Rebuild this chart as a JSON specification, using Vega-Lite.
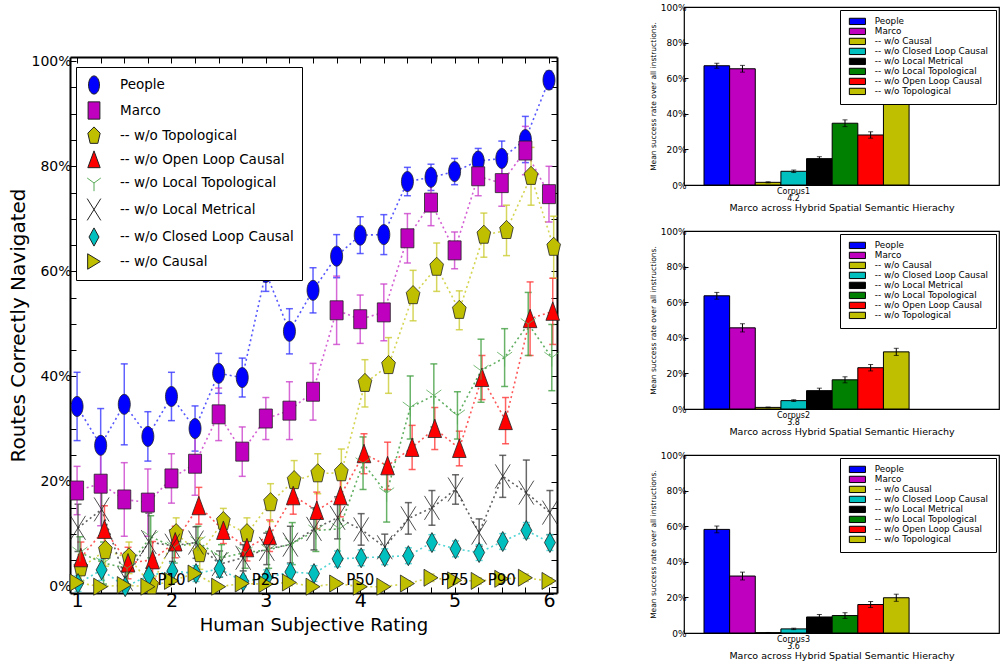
{
  "$schema": "https://vega.github.io/schema/vega-lite/v6.json",
  "background": "white",
  "padding": {"top": 2, "left": 8, "right": 0, "bottom": 0},
  "config": {
    "font": "DejaVu Sans",
    "axis": {"labelColor": "#000", "titleColor": "#000", "tickColor": "#000", "domain": false, "grid": false, "labelOverlap": false, "titleFontWeight": "normal", "labelFont": "DejaVu Sans", "titleFont": "DejaVu Sans"},
    "legend": {"labelFont": "DejaVu Sans", "labelColor": "#000", "labelLimit": 400}
  },
  "datasets": {
    "lines": [
      {"s":"People","x":1,"y":34.3,"e":6.5},{"s":"People","x":1.25,"y":26.9,"e":7},{"s":"People","x":1.5,"y":34.7,"e":7.7},{"s":"People","x":1.75,"y":28.6,"e":4.7},{"s":"People","x":2,"y":36.2,"e":4.6},{"s":"People","x":2.25,"y":30.1,"e":4.3},{"s":"People","x":2.5,"y":40.6,"e":3.8},{"s":"People","x":2.75,"y":39.8,"e":3.7},{"s":"People","x":3,"y":59.8,"e":3.6},{"s":"People","x":3.25,"y":48.6,"e":4.3},{"s":"People","x":3.5,"y":56.4,"e":4.3},{"s":"People","x":3.75,"y":62.9,"e":4.1},{"s":"People","x":4,"y":66.9,"e":3.5},{"s":"People","x":4.25,"y":67.0,"e":3.8},{"s":"People","x":4.5,"y":77.1,"e":2.7},{"s":"People","x":4.75,"y":77.9,"e":2.5},{"s":"People","x":5,"y":79.0,"e":2.5},{"s":"People","x":5.25,"y":81.0,"e":2.4},{"s":"People","x":5.5,"y":81.5,"e":3.3},{"s":"People","x":5.75,"y":85.1,"e":4.4},{"s":"People","x":6,"y":96.4,"e":1.7},
      {"s":"Marco","x":1,"y":18.3,"e":4.6},{"s":"Marco","x":1.25,"y":19.6,"e":8},{"s":"Marco","x":1.5,"y":16.6,"e":7},{"s":"Marco","x":1.75,"y":16.0,"e":6.4},{"s":"Marco","x":2,"y":20.6,"e":4.7},{"s":"Marco","x":2.25,"y":23.4,"e":6},{"s":"Marco","x":2.5,"y":32.8,"e":5},{"s":"Marco","x":2.75,"y":25.7,"e":4.7},{"s":"Marco","x":3,"y":32.0,"e":4},{"s":"Marco","x":3.25,"y":33.5,"e":5.5},{"s":"Marco","x":3.5,"y":37.1,"e":5.4},{"s":"Marco","x":3.75,"y":52.6,"e":6.5},{"s":"Marco","x":4,"y":50.9,"e":4.6},{"s":"Marco","x":4.25,"y":52.2,"e":5.4},{"s":"Marco","x":4.5,"y":66.3,"e":4.7},{"s":"Marco","x":4.75,"y":73.1,"e":4.4},{"s":"Marco","x":5,"y":64.0,"e":3.5},{"s":"Marco","x":5.25,"y":78.1,"e":3.7},{"s":"Marco","x":5.5,"y":76.8,"e":4.4},{"s":"Marco","x":5.75,"y":83.0,"e":4.6},{"s":"Marco","x":6,"y":74.7,"e":5.3},
      {"s":"-- w/o Topological","x":1.04,"y":3.6,"e":2.5},{"s":"-- w/o Topological","x":1.3,"y":6.9,"e":3},{"s":"-- w/o Topological","x":1.55,"y":5.5,"e":3},{"s":"-- w/o Topological","x":1.79,"y":0.2,"e":1.5},{"s":"-- w/o Topological","x":2.05,"y":10.1,"e":3},{"s":"-- w/o Topological","x":2.3,"y":6.3,"e":3},{"s":"-- w/o Topological","x":2.55,"y":12.4,"e":2.5},{"s":"-- w/o Topological","x":2.8,"y":10.1,"e":3},{"s":"-- w/o Topological","x":3.05,"y":16.0,"e":3.6},{"s":"-- w/o Topological","x":3.3,"y":20.2,"e":3.8},{"s":"-- w/o Topological","x":3.55,"y":21.5,"e":3.8},{"s":"-- w/o Topological","x":3.8,"y":21.7,"e":4.5},{"s":"-- w/o Topological","x":4.05,"y":38.7,"e":4.5},{"s":"-- w/o Topological","x":4.3,"y":42.1,"e":5.3},{"s":"-- w/o Topological","x":4.56,"y":55.4,"e":4.8},{"s":"-- w/o Topological","x":4.81,"y":60.8,"e":4.6},{"s":"-- w/o Topological","x":5.05,"y":52.6,"e":3.7},{"s":"-- w/o Topological","x":5.31,"y":66.9,"e":4.2},{"s":"-- w/o Topological","x":5.55,"y":67.8,"e":4.8},{"s":"-- w/o Topological","x":5.81,"y":78.1,"e":5.5},{"s":"-- w/o Topological","x":6.05,"y":64.6,"e":5.9},
      {"s":"-- w/o Open Loop Causal","x":1.04,"y":5.5,"e":3},{"s":"-- w/o Open Loop Causal","x":1.29,"y":10.9,"e":4.5},{"s":"-- w/o Open Loop Causal","x":1.54,"y":4.5,"e":3},{"s":"-- w/o Open Loop Causal","x":1.8,"y":5.1,"e":3.5},{"s":"-- w/o Open Loop Causal","x":2.04,"y":8.5,"e":3},{"s":"-- w/o Open Loop Causal","x":2.29,"y":15.4,"e":3.5},{"s":"-- w/o Open Loop Causal","x":2.55,"y":10.7,"e":2.5},{"s":"-- w/o Open Loop Causal","x":2.8,"y":7.4,"e":2.5},{"s":"-- w/o Open Loop Causal","x":3.04,"y":9.7,"e":3},{"s":"-- w/o Open Loop Causal","x":3.29,"y":17.3,"e":3.5},{"s":"-- w/o Open Loop Causal","x":3.54,"y":14.5,"e":3.5},{"s":"-- w/o Open Loop Causal","x":3.79,"y":17.3,"e":4},{"s":"-- w/o Open Loop Causal","x":4.04,"y":25.3,"e":3.8},{"s":"-- w/o Open Loop Causal","x":4.29,"y":23.0,"e":4.5},{"s":"-- w/o Open Loop Causal","x":4.55,"y":26.5,"e":4.2},{"s":"-- w/o Open Loop Causal","x":4.79,"y":30.1,"e":4},{"s":"-- w/o Open Loop Causal","x":5.05,"y":26.3,"e":3.3},{"s":"-- w/o Open Loop Causal","x":5.29,"y":39.8,"e":4.2},{"s":"-- w/o Open Loop Causal","x":5.54,"y":31.6,"e":4.4},{"s":"-- w/o Open Loop Causal","x":5.8,"y":51.0,"e":7},{"s":"-- w/o Open Loop Causal","x":6.04,"y":52.4,"e":6.3},
      {"s":"-- w/o Local Topological","x":1.03,"y":6.5,"e":3},{"s":"-- w/o Local Topological","x":1.28,"y":4.5,"e":4},{"s":"-- w/o Local Topological","x":1.53,"y":3.5,"e":3},{"s":"-- w/o Local Topological","x":1.78,"y":9.5,"e":4},{"s":"-- w/o Local Topological","x":2.03,"y":7.5,"e":3},{"s":"-- w/o Local Topological","x":2.28,"y":8.5,"e":3},{"s":"-- w/o Local Topological","x":2.53,"y":5.5,"e":2.5},{"s":"-- w/o Local Topological","x":2.78,"y":6.5,"e":3},{"s":"-- w/o Local Topological","x":3.03,"y":7.0,"e":3.5},{"s":"-- w/o Local Topological","x":3.28,"y":8.2,"e":4},{"s":"-- w/o Local Topological","x":3.53,"y":10.7,"e":4},{"s":"-- w/o Local Topological","x":3.78,"y":11.0,"e":6},{"s":"-- w/o Local Topological","x":4.03,"y":23.5,"e":5},{"s":"-- w/o Local Topological","x":4.28,"y":17.8,"e":5.5},{"s":"-- w/o Local Topological","x":4.53,"y":34.1,"e":6},{"s":"-- w/o Local Topological","x":4.78,"y":36.4,"e":6},{"s":"-- w/o Local Topological","x":5.03,"y":32.6,"e":4.5},{"s":"-- w/o Local Topological","x":5.28,"y":41.1,"e":6},{"s":"-- w/o Local Topological","x":5.53,"y":43.6,"e":5.5},{"s":"-- w/o Local Topological","x":5.78,"y":50.0,"e":6},{"s":"-- w/o Local Topological","x":6.03,"y":43.6,"e":6.3},
      {"s":"-- w/o Local Metrical","x":1.01,"y":11.2,"e":4.5},{"s":"-- w/o Local Metrical","x":1.26,"y":14.7,"e":5},{"s":"-- w/o Local Metrical","x":1.51,"y":1.5,"e":2},{"s":"-- w/o Local Metrical","x":1.76,"y":8.5,"e":5.5},{"s":"-- w/o Local Metrical","x":2.01,"y":7.8,"e":3},{"s":"-- w/o Local Metrical","x":2.26,"y":8.4,"e":3},{"s":"-- w/o Local Metrical","x":2.51,"y":4.3,"e":2.5},{"s":"-- w/o Local Metrical","x":2.76,"y":5.5,"e":2.5},{"s":"-- w/o Local Metrical","x":3.01,"y":7.2,"e":3},{"s":"-- w/o Local Metrical","x":3.26,"y":8.0,"e":3.5},{"s":"-- w/o Local Metrical","x":3.51,"y":11.0,"e":4},{"s":"-- w/o Local Metrical","x":3.76,"y":13.1,"e":4},{"s":"-- w/o Local Metrical","x":4.01,"y":10.9,"e":3},{"s":"-- w/o Local Metrical","x":4.26,"y":7.5,"e":2.5},{"s":"-- w/o Local Metrical","x":4.51,"y":13.0,"e":3},{"s":"-- w/o Local Metrical","x":4.76,"y":15.0,"e":3.3},{"s":"-- w/o Local Metrical","x":5.01,"y":18.5,"e":2.8},{"s":"-- w/o Local Metrical","x":5.26,"y":10.3,"e":2.6},{"s":"-- w/o Local Metrical","x":5.51,"y":21.0,"e":4},{"s":"-- w/o Local Metrical","x":5.76,"y":17.9,"e":6.2},{"s":"-- w/o Local Metrical","x":6.01,"y":14.1,"e":4.2},
      {"s":"-- w/o Closed Loop Causal","x":1.01,"y":0.6,"e":1.5},{"s":"-- w/o Closed Loop Causal","x":1.26,"y":3.2,"e":2},{"s":"-- w/o Closed Loop Causal","x":1.51,"y":0,"e":1},{"s":"-- w/o Closed Loop Causal","x":1.76,"y":2.1,"e":1.5},{"s":"-- w/o Closed Loop Causal","x":2.01,"y":3.0,"e":1.5},{"s":"-- w/o Closed Loop Causal","x":2.26,"y":2.5,"e":1.5},{"s":"-- w/o Closed Loop Causal","x":2.51,"y":3.4,"e":1.5},{"s":"-- w/o Closed Loop Causal","x":2.76,"y":1.0,"e":1},{"s":"-- w/o Closed Loop Causal","x":3.01,"y":1.7,"e":1.5},{"s":"-- w/o Closed Loop Causal","x":3.26,"y":2.8,"e":1.5},{"s":"-- w/o Closed Loop Causal","x":3.51,"y":2.5,"e":1.5},{"s":"-- w/o Closed Loop Causal","x":3.76,"y":5.3,"e":1.5},{"s":"-- w/o Closed Loop Causal","x":4.01,"y":5.5,"e":1.5},{"s":"-- w/o Closed Loop Causal","x":4.26,"y":5.7,"e":1.5},{"s":"-- w/o Closed Loop Causal","x":4.51,"y":5.9,"e":1.5},{"s":"-- w/o Closed Loop Causal","x":4.76,"y":8.4,"e":1.5},{"s":"-- w/o Closed Loop Causal","x":5.01,"y":7.2,"e":1.5},{"s":"-- w/o Closed Loop Causal","x":5.26,"y":6.5,"e":1.5},{"s":"-- w/o Closed Loop Causal","x":5.51,"y":8.6,"e":1.5},{"s":"-- w/o Closed Loop Causal","x":5.76,"y":10.7,"e":1.5},{"s":"-- w/o Closed Loop Causal","x":6.01,"y":8.4,"e":1.5},
      {"s":"-- w/o Causal","x":1,"y":0.8,"e":0.6},{"s":"-- w/o Causal","x":1.25,"y":0,"e":0.4},{"s":"-- w/o Causal","x":1.5,"y":0.3,"e":0.5},{"s":"-- w/o Causal","x":1.75,"y":0,"e":0.4},{"s":"-- w/o Causal","x":2,"y":1.1,"e":0.6},{"s":"-- w/o Causal","x":2.25,"y":2.5,"e":0.8},{"s":"-- w/o Causal","x":2.5,"y":0,"e":0.4},{"s":"-- w/o Causal","x":2.75,"y":0.6,"e":0.5},{"s":"-- w/o Causal","x":3,"y":0.5,"e":0.5},{"s":"-- w/o Causal","x":3.25,"y":0.8,"e":0.6},{"s":"-- w/o Causal","x":3.5,"y":0,"e":0.4},{"s":"-- w/o Causal","x":3.75,"y":0.6,"e":0.5},{"s":"-- w/o Causal","x":4,"y":0,"e":0.4},{"s":"-- w/o Causal","x":4.25,"y":0,"e":0.4},{"s":"-- w/o Causal","x":4.5,"y":0.6,"e":0.5},{"s":"-- w/o Causal","x":4.75,"y":1.7,"e":0.7},{"s":"-- w/o Causal","x":5,"y":1.2,"e":0.6},{"s":"-- w/o Causal","x":5.25,"y":1.1,"e":0.6},{"s":"-- w/o Causal","x":5.5,"y":1.5,"e":0.7},{"s":"-- w/o Causal","x":5.75,"y":1.7,"e":0.7},{"s":"-- w/o Causal","x":6,"y":1.1,"e":0.6}
    ],
    "pct": [
      {"x":2,"y":1.3,"t":"P10"},{"x":3,"y":1.3,"t":"P25"},{"x":4,"y":1.3,"t":"P50"},{"x":5,"y":1.3,"t":"P75"},{"x":5.5,"y":1.3,"t":"P90"}
    ],
    "bars": [
      {"c":"Corpus1|4.2","s":"People","v":67.0,"e":1.4},{"c":"Corpus1|4.2","s":"Marco","v":65.3,"e":1.9},{"c":"Corpus1|4.2","s":"-- w/o Causal","v":1.5,"e":0.3},{"c":"Corpus1|4.2","s":"-- w/o Closed Loop Causal","v":7.7,"e":0.7},{"c":"Corpus1|4.2","s":"-- w/o Local Metrical","v":14.8,"e":1.1},{"c":"Corpus1|4.2","s":"-- w/o Local Topological","v":34.7,"e":1.9},{"c":"Corpus1|4.2","s":"-- w/o Open Loop Causal","v":28.1,"e":1.8},{"c":"Corpus1|4.2","s":"-- w/o Topological","v":52.2,"e":1.9},
      {"c":"Corpus2|3.8","s":"People","v":63.6,"e":1.9},{"c":"Corpus2|3.8","s":"Marco","v":45.6,"e":2.3},{"c":"Corpus2|3.8","s":"-- w/o Causal","v":0.9,"e":0.2},{"c":"Corpus2|3.8","s":"-- w/o Closed Loop Causal","v":4.7,"e":0.5},{"c":"Corpus2|3.8","s":"-- w/o Local Metrical","v":10.3,"e":1.4},{"c":"Corpus2|3.8","s":"-- w/o Local Topological","v":16.4,"e":1.7},{"c":"Corpus2|3.8","s":"-- w/o Open Loop Causal","v":23.2,"e":1.8},{"c":"Corpus2|3.8","s":"-- w/o Topological","v":32.1,"e":2.0},
      {"c":"Corpus3|3.6","s":"People","v":58.2,"e":1.9},{"c":"Corpus3|3.6","s":"Marco","v":32.0,"e":2.2},{"c":"Corpus3|3.6","s":"-- w/o Causal","v":0.2,"e":0.1},{"c":"Corpus3|3.6","s":"-- w/o Closed Loop Causal","v":2.3,"e":0.4},{"c":"Corpus3|3.6","s":"-- w/o Local Metrical","v":9.0,"e":1.4},{"c":"Corpus3|3.6","s":"-- w/o Local Topological","v":9.8,"e":1.6},{"c":"Corpus3|3.6","s":"-- w/o Open Loop Causal","v":16.0,"e":1.7},{"c":"Corpus3|3.6","s":"-- w/o Topological","v":19.8,"e":2.0}
    ]
  },
  "resolve": {"scale": {"color": "independent", "x": "independent", "y": "independent"}, "legend": {"color": "independent"}},
  "spacing": 85,
  "hconcat": [
    {
      "width": 487,
      "height": 586,
      "view": {"stroke": null},
      "resolve": {"axis": {"x": "independent", "y": "independent"}},
      "layer": [
        {
          "data": {"name": "lines"},
          "mark": {"type": "line", "strokeDash": [2, 3], "strokeWidth": 1.6, "opacity": 0.85},
          "encoding": {
            "x": {"field": "x", "type": "quantitative", "scale": {"domain": [0.925, 6.085], "nice": false, "zero": false},
                  "axis": {"orient": "bottom", "values": [1,1.25,1.5,1.75,2,2.25,2.5,2.75,3,3.25,3.5,3.75,4,4.25,4.5,4.75,5,5.25,5.5,5.75,6], "labelExpr": "datum.value % 1 == 0 ? format(datum.value, 'd') : ''", "domain": true, "domainColor": "#000", "domainWidth": 2, "tickSize": -6, "labelFontSize": 19, "labelPadding": 4, "labelFlush": false, "title": "Human Subjective Rating", "titleFontSize": 18, "titlePadding": 6}},
            "y": {"field": "y", "type": "quantitative", "scale": {"domain": [-1.2, 100.8], "range": [586, 50], "nice": false, "zero": false},
                  "axis": {"orient": "left", "values": [0,5,10,15,20,25,30,35,40,45,50,55,60,65,70,75,80,85,90,95,100], "labelExpr": "datum.value % 20 == 0 ? datum.value + '%' : ''", "domain": true, "domainColor": "#000", "domainWidth": 2, "tickSize": -6, "labelFontSize": 14, "labelPadding": 5, "labelFlush": false, "title": "Routes Correctly Navigated", "titleFontSize": 20, "titlePadding": 2}},
            "color": {"field": "s", "type": "nominal", "legend": null,
                      "scale": {"domain": ["People","Marco","-- w/o Topological","-- w/o Open Loop Causal","-- w/o Local Topological","-- w/o Local Metrical","-- w/o Closed Loop Causal","-- w/o Causal"],
                                "range": ["#3a3aff","#cc44cc","#cccc33","#ff3a3a","#44a044","#444444","#33cccc","#cccc33"]}}
          }
        },
        {
          "data": {"name": "lines"},
          "mark": {"type": "errorbar", "ticks": {"size": 7}, "thickness": 1.5, "opacity": 0.8},
          "encoding": {
            "x": {"field": "x", "type": "quantitative", "scale": {"domain": [0.925, 6.085], "nice": false, "zero": false},
                  "axis": {"orient": "top", "offset": -50, "values": [1,1.25,1.5,1.75,2,2.25,2.5,2.75,3,3.25,3.5,3.75,4,4.25,4.5,4.75,5,5.25,5.5,5.75,6], "labels": false, "domain": true, "domainColor": "#000", "domainWidth": 2, "tickSize": -6, "title": null}},
            "y": {"field": "y", "type": "quantitative", "scale": {"domain": [-1.2, 100.8], "range": [586, 50], "nice": false, "zero": false},
                  "axis": {"orient": "right", "values": [0,5,10,15,20,25,30,35,40,45,50,55,60,65,70,75,80,85,90,95,100], "labels": false, "domain": true, "domainColor": "#000", "domainWidth": 2, "tickSize": -6, "title": null}},
            "yError": {"field": "e"},
            "color": {"field": "s", "type": "nominal", "legend": null}
          }
        },
        {
          "data": {"name": "lines"},
          "mark": {"type": "point", "filled": true, "opacity": 1, "size": 400, "strokeWidth": 0.8},
          "encoding": {
            "x": {"field": "x", "type": "quantitative", "axis": null},
            "y": {"field": "y", "type": "quantitative", "axis": null},
            "shape": {"field": "s", "type": "nominal",
                      "scale": {"domain": ["People","Marco","-- w/o Topological","-- w/o Open Loop Causal","-- w/o Local Topological","-- w/o Local Metrical","-- w/o Closed Loop Causal","-- w/o Causal"],
                                "range": ["M0,-1A0.6,1,0,1,1,0,1A0.6,1,0,1,1,0,-1Z","M-0.65,-0.95H0.65V0.95H-0.65Z","M0,-1L0.68,-0.31L0.42,0.81L-0.42,0.81L-0.68,-0.31Z","M0,-0.95L0.68,0.9L-0.68,0.9Z","M0,0L0,0.9M0,0L0.75,-0.55M0,0L-0.75,-0.55","M-0.75,-1.2L0.75,1.2M-0.75,1.2L0.75,-1.2","M0,-1L0.55,0L0,1L-0.55,0Z","M0.7,0L-0.7,-0.85L-0.7,0.85Z"]},
                      "legend": {"orient": "none", "legendX": 6, "legendY": 60, "title": null, "padding": 8, "strokeColor": "#000", "fillColor": "#fff", "labelFontSize": 13.5, "symbolSize": 330, "rowPadding": 2.5, "labelOffset": 16, "symbolStrokeWidth": 1}},
            "fill": {"field": "s", "type": "nominal",
                     "scale": {"domain": ["People","Marco","-- w/o Topological","-- w/o Open Loop Causal","-- w/o Local Topological","-- w/o Local Metrical","-- w/o Closed Loop Causal","-- w/o Causal"],
                               "range": ["#0000ff","#bf00bf","#bfbf00","#ff0000","transparent","transparent","#00bfbf","#bfbf00"]},
                     "legend": {"orient": "none", "legendX": 6, "legendY": 60, "title": null, "padding": 8, "strokeColor": "#000", "fillColor": "#fff", "labelFontSize": 13.5, "symbolSize": 330, "rowPadding": 2.5, "labelOffset": 16, "symbolStrokeWidth": 1}},
            "stroke": {"field": "s", "type": "nominal",
                       "scale": {"domain": ["People","Marco","-- w/o Topological","-- w/o Open Loop Causal","-- w/o Local Topological","-- w/o Local Metrical","-- w/o Closed Loop Causal","-- w/o Causal"],
                                 "range": ["#222222","#222222","#222222","#222222","#55aa55","#222222","#222222","#222222"]},
                       "legend": {"orient": "none", "legendX": 6, "legendY": 60, "title": null, "padding": 8, "strokeColor": "#000", "fillColor": "#fff", "labelFontSize": 13.5, "symbolSize": 330, "rowPadding": 2.5, "labelOffset": 16, "symbolStrokeWidth": 1}}
          }
        },
        {
          "data": {"name": "pct"},
          "mark": {"type": "text", "fontSize": 15, "color": "#000", "align": "center", "baseline": "middle"},
          "encoding": {
            "x": {"field": "x", "type": "quantitative", "axis": null},
            "y": {"field": "y", "type": "quantitative", "axis": null},
            "text": {"field": "t"}
          }
        }
      ]
    },
    {
      "spacing": 13,
      "resolve": {"scale": {"color": "independent", "x": "independent", "y": "independent", "xOffset": "independent"}, "legend": {"color": "independent"}},
      "vconcat": [
        {
          "width": 315, "height": 178,
          "view": {"stroke": "#000", "strokeWidth": 1.2},
          "data": {"name": "bars"},
          "transform": [{"filter": "datum.c == 'Corpus1|4.2'"}],
          "layer": [
            {
              "mark": {"type": "bar", "stroke": "#000", "strokeWidth": 1},
              "encoding": {
                "x": {"field": "c", "type": "nominal", "scale": {"paddingOuter": 0.268, "paddingInner": 0, "align": 0.182},
                      "axis": {"labelExpr": "split(datum.label, '|')", "labelAngle": 0, "labelFontSize": 8, "labelLineHeight": 7.5, "labelOffset": -13, "labelPadding": 2, "tickSize": 0, "title": "Marco across Hybrid Spatial Semantic Hierachy", "titleFontSize": 9.5, "titlePadding": 0}},
                "xOffset": {"field": "s", "type": "nominal", "scale": {"domain": ["People","Marco","-- w/o Causal","-- w/o Closed Loop Causal","-- w/o Local Metrical","-- w/o Local Topological","-- w/o Open Loop Causal","-- w/o Topological"], "paddingInner": 0, "paddingOuter": 0}},
                "y": {"field": "v", "type": "quantitative", "scale": {"domain": [0, 100], "nice": false},
                      "axis": {"title": "Mean success rate over all instructions.", "values": [0,20,40,60,80,100], "labelExpr": "datum.value + '%'", "labelOverlap": false, "labelFlush": false, "tickSize": -4, "labelFontSize": 9, "labelPadding": 2, "titleFontSize": 7.5, "titlePadding": 3}},
                "color": {"field": "s", "type": "nominal",
                          "scale": {"domain": ["People","Marco","-- w/o Causal","-- w/o Closed Loop Causal","-- w/o Local Metrical","-- w/o Local Topological","-- w/o Open Loop Causal","-- w/o Topological"],
                                    "range": ["#0000ff","#bf00bf","#bfbf00","#00bfbf","#000000","#008000","#ff0000","#bfbf00"]},
                          "legend": {"orient": "top-right", "offset": 3, "title": null, "padding": 7, "symbolOffset": 6, "strokeColor": "#000", "fillColor": "#fff", "labelFontSize": 8.8, "symbolType": "M-2.3,-0.9H2.3V0.9H-2.3Z", "symbolSize": 49, "symbolStrokeColor": "#000", "symbolStrokeWidth": 1, "rowPadding": -2, "labelOffset": 13}}
              }
            },
            {
              "mark": {"type": "errorbar", "ticks": {"size": 5}, "color": "#000"},
              "encoding": {
                "x": {"field": "c", "type": "nominal"},
                "xOffset": {"field": "s", "type": "nominal"},
                "y": {"field": "v", "type": "quantitative",
                      "axis": {"title": "Mean success rate over all instructions.", "values": [0,20,40,60,80,100], "labelExpr": "datum.value + '%'", "labelOverlap": false, "labelFlush": false, "tickSize": -4, "labelFontSize": 9, "labelPadding": 2, "titleFontSize": 7.5, "titlePadding": 3}},
                "yError": {"field": "e"}
              }
            }
          ]
        },
        {
          "width": 315, "height": 178,
          "view": {"stroke": "#000", "strokeWidth": 1.2},
          "data": {"name": "bars"},
          "transform": [{"filter": "datum.c == 'Corpus2|3.8'"}],
          "layer": [
            {
              "mark": {"type": "bar", "stroke": "#000", "strokeWidth": 1},
              "encoding": {
                "x": {"field": "c", "type": "nominal", "scale": {"paddingOuter": 0.268, "paddingInner": 0, "align": 0.182},
                      "axis": {"labelExpr": "split(datum.label, '|')", "labelAngle": 0, "labelFontSize": 8, "labelLineHeight": 7.5, "labelOffset": -13, "labelPadding": 2, "tickSize": 0, "title": "Marco across Hybrid Spatial Semantic Hierachy", "titleFontSize": 9.5, "titlePadding": 0}},
                "xOffset": {"field": "s", "type": "nominal", "scale": {"domain": ["People","Marco","-- w/o Causal","-- w/o Closed Loop Causal","-- w/o Local Metrical","-- w/o Local Topological","-- w/o Open Loop Causal","-- w/o Topological"], "paddingInner": 0, "paddingOuter": 0}},
                "y": {"field": "v", "type": "quantitative", "scale": {"domain": [0, 100], "nice": false},
                      "axis": {"title": "Mean success rate over all instructions.", "values": [0,20,40,60,80,100], "labelExpr": "datum.value + '%'", "labelOverlap": false, "labelFlush": false, "tickSize": -4, "labelFontSize": 9, "labelPadding": 2, "titleFontSize": 7.5, "titlePadding": 3}},
                "color": {"field": "s", "type": "nominal",
                          "scale": {"domain": ["People","Marco","-- w/o Causal","-- w/o Closed Loop Causal","-- w/o Local Metrical","-- w/o Local Topological","-- w/o Open Loop Causal","-- w/o Topological"],
                                    "range": ["#0000ff","#bf00bf","#bfbf00","#00bfbf","#000000","#008000","#ff0000","#bfbf00"]},
                          "legend": {"orient": "top-right", "offset": 3, "title": null, "padding": 7, "symbolOffset": 6, "strokeColor": "#000", "fillColor": "#fff", "labelFontSize": 8.8, "symbolType": "M-2.3,-0.9H2.3V0.9H-2.3Z", "symbolSize": 49, "symbolStrokeColor": "#000", "symbolStrokeWidth": 1, "rowPadding": -2, "labelOffset": 13}}
              }
            },
            {
              "mark": {"type": "errorbar", "ticks": {"size": 5}, "color": "#000"},
              "encoding": {
                "x": {"field": "c", "type": "nominal"},
                "xOffset": {"field": "s", "type": "nominal"},
                "y": {"field": "v", "type": "quantitative",
                      "axis": {"title": "Mean success rate over all instructions.", "values": [0,20,40,60,80,100], "labelExpr": "datum.value + '%'", "labelOverlap": false, "labelFlush": false, "tickSize": -4, "labelFontSize": 9, "labelPadding": 2, "titleFontSize": 7.5, "titlePadding": 3}},
                "yError": {"field": "e"}
              }
            }
          ]
        },
        {
          "width": 315, "height": 178,
          "view": {"stroke": "#000", "strokeWidth": 1.2},
          "data": {"name": "bars"},
          "transform": [{"filter": "datum.c == 'Corpus3|3.6'"}],
          "layer": [
            {
              "mark": {"type": "bar", "stroke": "#000", "strokeWidth": 1},
              "encoding": {
                "x": {"field": "c", "type": "nominal", "scale": {"paddingOuter": 0.268, "paddingInner": 0, "align": 0.182},
                      "axis": {"labelExpr": "split(datum.label, '|')", "labelAngle": 0, "labelFontSize": 8, "labelLineHeight": 7.5, "labelOffset": -13, "labelPadding": 2, "tickSize": 0, "title": "Marco across Hybrid Spatial Semantic Hierachy", "titleFontSize": 9.5, "titlePadding": 0}},
                "xOffset": {"field": "s", "type": "nominal", "scale": {"domain": ["People","Marco","-- w/o Causal","-- w/o Closed Loop Causal","-- w/o Local Metrical","-- w/o Local Topological","-- w/o Open Loop Causal","-- w/o Topological"], "paddingInner": 0, "paddingOuter": 0}},
                "y": {"field": "v", "type": "quantitative", "scale": {"domain": [0, 100], "nice": false},
                      "axis": {"title": "Mean success rate over all instructions.", "values": [0,20,40,60,80,100], "labelExpr": "datum.value + '%'", "labelOverlap": false, "labelFlush": false, "tickSize": -4, "labelFontSize": 9, "labelPadding": 2, "titleFontSize": 7.5, "titlePadding": 3}},
                "color": {"field": "s", "type": "nominal",
                          "scale": {"domain": ["People","Marco","-- w/o Causal","-- w/o Closed Loop Causal","-- w/o Local Metrical","-- w/o Local Topological","-- w/o Open Loop Causal","-- w/o Topological"],
                                    "range": ["#0000ff","#bf00bf","#bfbf00","#00bfbf","#000000","#008000","#ff0000","#bfbf00"]},
                          "legend": {"orient": "top-right", "offset": 3, "title": null, "padding": 7, "symbolOffset": 6, "strokeColor": "#000", "fillColor": "#fff", "labelFontSize": 8.8, "symbolType": "M-2.3,-0.9H2.3V0.9H-2.3Z", "symbolSize": 49, "symbolStrokeColor": "#000", "symbolStrokeWidth": 1, "rowPadding": -2, "labelOffset": 13}}
              }
            },
            {
              "mark": {"type": "errorbar", "ticks": {"size": 5}, "color": "#000"},
              "encoding": {
                "x": {"field": "c", "type": "nominal"},
                "xOffset": {"field": "s", "type": "nominal"},
                "y": {"field": "v", "type": "quantitative",
                      "axis": {"title": "Mean success rate over all instructions.", "values": [0,20,40,60,80,100], "labelExpr": "datum.value + '%'", "labelOverlap": false, "labelFlush": false, "tickSize": -4, "labelFontSize": 9, "labelPadding": 2, "titleFontSize": 7.5, "titlePadding": 3}},
                "yError": {"field": "e"}
              }
            }
          ]
        }
      ]
    }
  ]
}
